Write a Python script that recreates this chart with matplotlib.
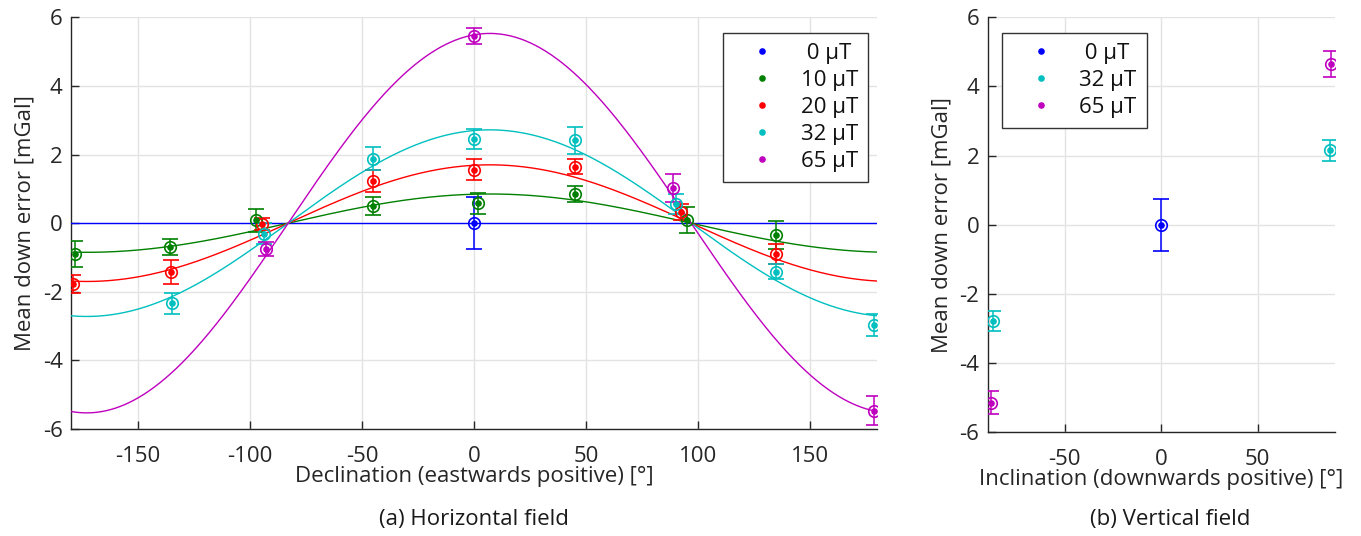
"""Mean down error versus field direction for horizontal and vertical fields."""

import matplotlib

matplotlib.use("Agg")
import matplotlib.pyplot as plt
import numpy as np

plt.rcParams["font.family"] = ["Open Sans", "DejaVu Sans"]
plt.rcParams["axes.unicode_minus"] = False

TEXT_COLOR = "#262626"
GRID_COLOR = "#e3e3e3"
FONT_SIZE = 16

FIELD_LABELS = ["0 µT", "10 µT", "20 µT", "32 µT", "65 µT"]
FIELD_COLORS = ["#0000ff", "#008000", "#ff0000", "#00bfbf", "#bf00bf"]

# (a) horizontal field: declination sweep per field strength
DEC_0 = [0.0]
ERR_0 = [0.0]
SD_0 = [0.75]
DEC_10 = [-178.0, -136.0, -97.5, -45.0, 2.0, 45.0, 95.0, 135.0]
ERR_10 = [-0.90, -0.70, 0.08, 0.51, 0.58, 0.85, 0.10, -0.35]
SD_10 = [0.38, 0.24, 0.34, 0.26, 0.30, 0.24, 0.38, 0.40]
DEC_20 = [-179.0, -135.5, -94.5, -45.0, 0.0, 45.0, 92.5, 135.0]
ERR_20 = [-1.77, -1.42, -0.02, 1.24, 1.56, 1.65, 0.32, -0.90]
SD_20 = [0.27, 0.34, 0.18, 0.32, 0.30, 0.22, 0.24, 0.28]
DEC_32 = [-135.0, -94.0, -45.0, 0.0, 45.0, 90.0, 135.0, 178.5]
ERR_32 = [-2.34, -0.31, 1.88, 2.45, 2.41, 0.56, -1.41, -2.97]
SD_32 = [0.30, 0.30, 0.33, 0.28, 0.40, 0.29, 0.21, 0.33]
DEC_65 = [-93.0, 0.0, 89.0, 178.5]
ERR_65 = [-0.75, 5.46, 1.02, -5.47]
SD_65 = [0.21, 0.24, 0.41, 0.42]

# cosine fit A * cos(dec - phase) for each field strength
FIT_AMPLITUDE = [0.0, 0.85, 1.70, 2.72, 5.53]
FIT_PHASE_DEG = 7.0

# (b) vertical field: inclination sweep
INC_FIELDS = [0, 3, 4]
INC_0 = [0.0]
VERR_0 = [0.0]
VSD_0 = [0.75]
INC_32 = [-87.0, 87.5]
VERR_32 = [-2.79, 2.15]
VSD_32 = [0.28, 0.31]
INC_65 = [-88.0, 88.0]
VERR_65 = [-5.15, 4.64]
VSD_65 = [0.33, 0.38]

Y_TICKS = [-6, -4, -2, 0, 2, 4, 6]


def draw_points(ax, x, y, err, color, label):
    """Circle with centre dot and capped error bar."""
    ax.errorbar(
        x, y, yerr=err, fmt="o", color=color, mfc="none", ms=8.3, mew=1.2,
        elinewidth=1.1, capsize=6, capthick=1.1, zorder=4,
    )
    line, = ax.plot(x, y, ".", color=color, ms=7.5, label=label, zorder=5)
    return line


def style_axes(ax, xlabel, caption, caption_xy):
    ax.grid(True, color=GRID_COLOR, linewidth=1.0)
    ax.set_axisbelow(True)
    for side in ("top", "right"):
        ax.spines[side].set_visible(False)
    for side in ("left", "bottom"):
        ax.spines[side].set_color(TEXT_COLOR)
        ax.spines[side].set_linewidth(1.0)
    ax.tick_params(direction="in", length=6, width=1.0, color=TEXT_COLOR,
                   labelcolor=TEXT_COLOR, labelsize=FONT_SIZE)
    ax.tick_params(axis="x", pad=12.5)
    ax.tick_params(axis="y", pad=6)
    ax.set_yticks(Y_TICKS)
    ax.set_ylim(-6, 6)
    ax.set_ylabel("Mean down error [mGal]", fontsize=FONT_SIZE,
                  color=TEXT_COLOR, labelpad=5)
    ax.set_xlabel(xlabel, fontsize=FONT_SIZE, color=TEXT_COLOR, labelpad=-1)
    ax.text(caption_xy[0], caption_xy[1], caption, transform=ax.transAxes,
            ha="center", va="center", fontsize=FONT_SIZE, color="#1a1a1a")


def add_legend(ax, handles, anchor):
    leg = ax.legend(
        handles=handles, loc="upper left", bbox_to_anchor=anchor,
        bbox_transform=ax.figure.transFigure, borderaxespad=0,
        fontsize=FONT_SIZE, fancybox=False, edgecolor="#333333",
        framealpha=1, handlelength=2.6, handletextpad=0.45, borderpad=0.45,
        labelspacing=0.27, numpoints=1,
    )
    leg.get_frame().set_linewidth(1.0)
    for text in leg.get_texts():
        text.set_color("#111111")
    return leg


def legend_text(label):
    # pad single-digit labels so the entries sit centred in the box
    return " " + label if len(label.split()[0]) == 1 else label


fig = plt.figure(figsize=(13.61, 5.36), dpi=100)
ax_h = fig.add_axes([71 / 1361, 1 - 429 / 536, 806 / 1361, 411.7 / 536])
ax_v = fig.add_axes([987.5 / 1361, 1 - 432 / 536, 347.5 / 1361, 414.7 / 536])

# horizontal field
dec_sets = [
    (DEC_0, ERR_0, SD_0),
    (DEC_10, ERR_10, SD_10),
    (DEC_20, ERR_20, SD_20),
    (DEC_32, ERR_32, SD_32),
    (DEC_65, ERR_65, SD_65),
]
dec_grid = np.linspace(-180, 180, 721)
handles_h = []
for idx, (x, y, err) in enumerate(dec_sets):
    color = FIELD_COLORS[idx]
    fit = FIT_AMPLITUDE[idx] * np.cos(np.radians(dec_grid - FIT_PHASE_DEG))
    ax_h.plot(dec_grid, fit, color=color, linewidth=1.0, zorder=3)
    handles_h.append(
        draw_points(ax_h, x, y, err, color, legend_text(FIELD_LABELS[idx]))
    )
ax_h.set_xlim(-180, 180)
ax_h.set_xticks([-150, -100, -50, 0, 50, 100, 150])
style_axes(ax_h, "Declination (eastwards positive) [°]", "(a) Horizontal field",
           (0.5, -0.221))
add_legend(ax_h, handles_h, (723 / 1361, 1 - 32.7 / 536))

# vertical field
inc_sets = [
    (INC_0, VERR_0, VSD_0),
    (INC_32, VERR_32, VSD_32),
    (INC_65, VERR_65, VSD_65),
]
handles_v = []
for field_idx, (x, y, err) in zip(INC_FIELDS, inc_sets):
    color = FIELD_COLORS[field_idx]
    handles_v.append(
        draw_points(ax_v, x, y, err, color, legend_text(FIELD_LABELS[field_idx]))
    )
ax_v.set_xlim(-90, 90)
ax_v.set_xticks([-50, 0, 50])
style_axes(ax_v, "Inclination (downwards positive) [°]", "(b) Vertical field",
           (0.526, -0.212))
add_legend(ax_v, handles_v, (1001.7 / 1361, 1 - 32.7 / 536))

fig.savefig("out.png", dpi=100)
